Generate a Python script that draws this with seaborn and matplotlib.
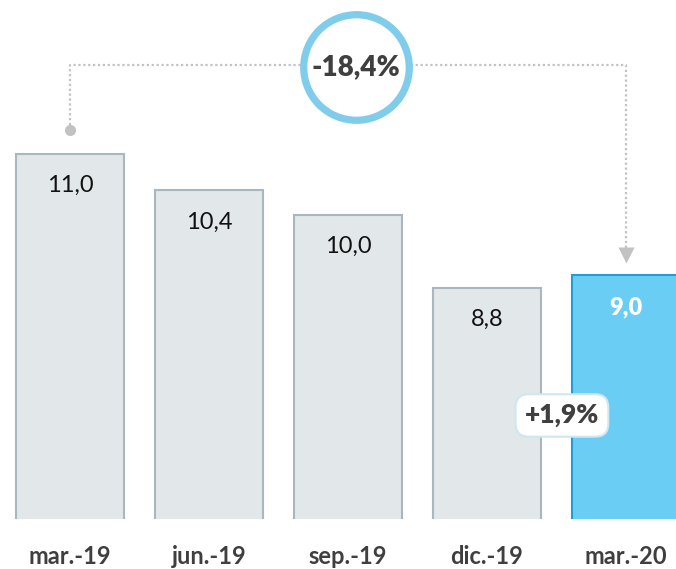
import matplotlib
matplotlib.use("Agg")
import matplotlib.pyplot as plt
import seaborn as sns
import pandas as pd

# Quarterly values
periods = ["mar.-19", "jun.-19", "sep.-19", "dic.-19", "mar.-20"]
values = [11.0, 10.4, 10.0, 8.8, 9.0]
value_labels = ["11,0", "10,4", "10,0", "8,8", "9,0"]
yoy_change = "-18,4%"
qoq_change = "+1,9%"

grey_fill, grey_edge = "#E2E7EA", "#A9B7BF"
blue_fill, blue_edge = "#69CDF4", "#1E9FD8"
text_dark = "#3F3F3F"
line_grey = "#C2C2C2"

sns.set_theme(style="white")
plt.rcParams["font.family"] = ["Lato", "DejaVu Sans"]

df = pd.DataFrame({"period": periods, "value": values})

fig = plt.figure(figsize=(6.76, 5.69), dpi=100)
ax = fig.add_axes([0, 50 / 569, 1, 519 / 569])

fills = [grey_fill] * 4 + [blue_fill]
edges = [grey_edge] * 4 + [blue_edge]
sns.barplot(data=df, x="period", y="value", hue="period", palette=fills,
            saturation=1, width=0.78, legend=False, ax=ax, zorder=2)
for patch, ec in zip(ax.patches, edges):
    patch.set_edgecolor(ec)
    patch.set_linewidth(1.5)

ax.set_xlim(-0.504, 4.36)
ax.set_ylim(5, 5 + 519 / 60.9)
ax.set_xlabel("")
ax.set_ylabel("")
ax.set_yticks([])
for s in ax.spines.values():
    s.set_visible(False)
ax.tick_params(axis="x", length=0, pad=19)
for lbl in ax.get_xticklabels():
    lbl.set_fontsize(17)
    lbl.set_fontweight("bold")
    lbl.set_color(text_dark)

# Value labels just under the top of each bar
for i, (v, t) in enumerate(zip(values, value_labels)):
    last = i == len(values) - 1
    ax.annotate(t, (i, v), xytext=(0, -32), textcoords="offset pixels",
                ha="center", va="center", fontsize=17,
                fontweight="heavy" if last else "normal",
                color="white" if last else "#111111", zorder=5)

# Year-over-year bracket from first to last bar
y_top = 12.45
ax.plot([0, 0, 4, 4], [11.39, y_top, y_top, 9.45], color=line_grey,
        lw=1.6, ls=(0, (1, 1.2)), zorder=3, solid_capstyle="butt")
ax.plot([0], [11.39], marker="o", ms=8, color=line_grey, mec="none", zorder=4)
ax.plot([4], [9.33], marker="v", ms=11, color=line_grey, mec="none", zorder=4)

# Circle with year-over-year change
cx = (356 - 70) / 139
ax.plot([cx], [12.42], marker="o", ms=76, mfc="white", mec="#7FCCEB",
        mew=5.2, zorder=6, clip_on=False)
ax.text(cx, 12.42, yoy_change, ha="center", va="center", fontsize=20,
        fontweight="heavy", color=text_dark, zorder=7)

# Quarter-over-quarter change box
ax.text((562 - 70) / 139, 6.7, qoq_change, ha="center", va="center",
        fontsize=19, fontweight="heavy", color=text_dark, zorder=7,
        bbox=dict(boxstyle="round,pad=0.35,rounding_size=0.5", fc="white",
                  ec="#CFE6F3", lw=1.5))

fig.savefig("out.png", dpi=100)
